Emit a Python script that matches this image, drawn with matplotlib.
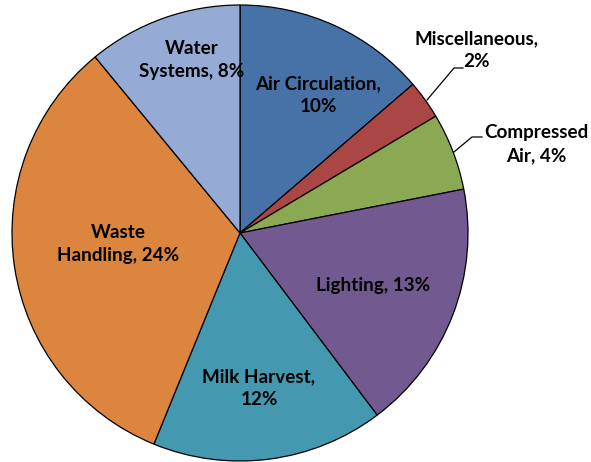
import matplotlib
matplotlib.use("Agg")
import matplotlib.pyplot as plt

categories = ["Air Circulation", "Miscellaneous", "Compressed Air", "Lighting",
              "Milk Harvest", "Waste Handling", "Water Systems"]
values = [10, 2, 4, 13, 12, 24, 8]
label_texts = ["Air Circulation,\n10%", "Miscellaneous,\n2%", "Compressed\nAir, 4%",
               "Lighting, 13%", "Milk Harvest,\n12%", "Waste\nHandling, 24%", "Water\nSystems, 8%"]
colors = ["#4672A8", "#AA4744", "#8BA852", "#725A91", "#4499B0", "#DC853F", "#95AAD4"]

W, H = 591, 462
fig = plt.figure(figsize=(W / 100, H / 100), dpi=100)
ax = fig.add_axes([0, 0, 1, 1])
ax.set_xlim(0, W)
ax.set_ylim(0, H)
ax.set_aspect("equal")
ax.axis("off")

cx, cy, r = 240, H - 233, 228
wedges, _ = ax.pie(values, colors=colors, startangle=90, counterclock=False,
                   center=(cx, cy), radius=r,
                   wedgeprops=dict(edgecolor="black", linewidth=0.9))
ax.set_xlim(0, W)
ax.set_ylim(0, H)

# label positions in pixel coords (top-left origin)
label_pos = [(318, 95), (477, 50), (536, 144), (373, 285), (259, 388), (118, 244), (192, 60)]
fp = dict(family=["Lato", "DejaVu Sans"], fontweight="bold", fontsize=13.6,
          ha="center", va="center", linespacing=1.4, color="black")
for txt, (x, y) in zip(label_texts, label_pos):
    ax.text(x, H - y, txt, **fp)

# leader lines
ax.plot([427, 454, 463], [H - 100, H - 68, H - 68], color="black", lw=0.9)
ax.plot([454, 472, 482], [H - 152, H - 137, H - 137], color="black", lw=0.9)

fig.savefig("out.png", dpi=100)
